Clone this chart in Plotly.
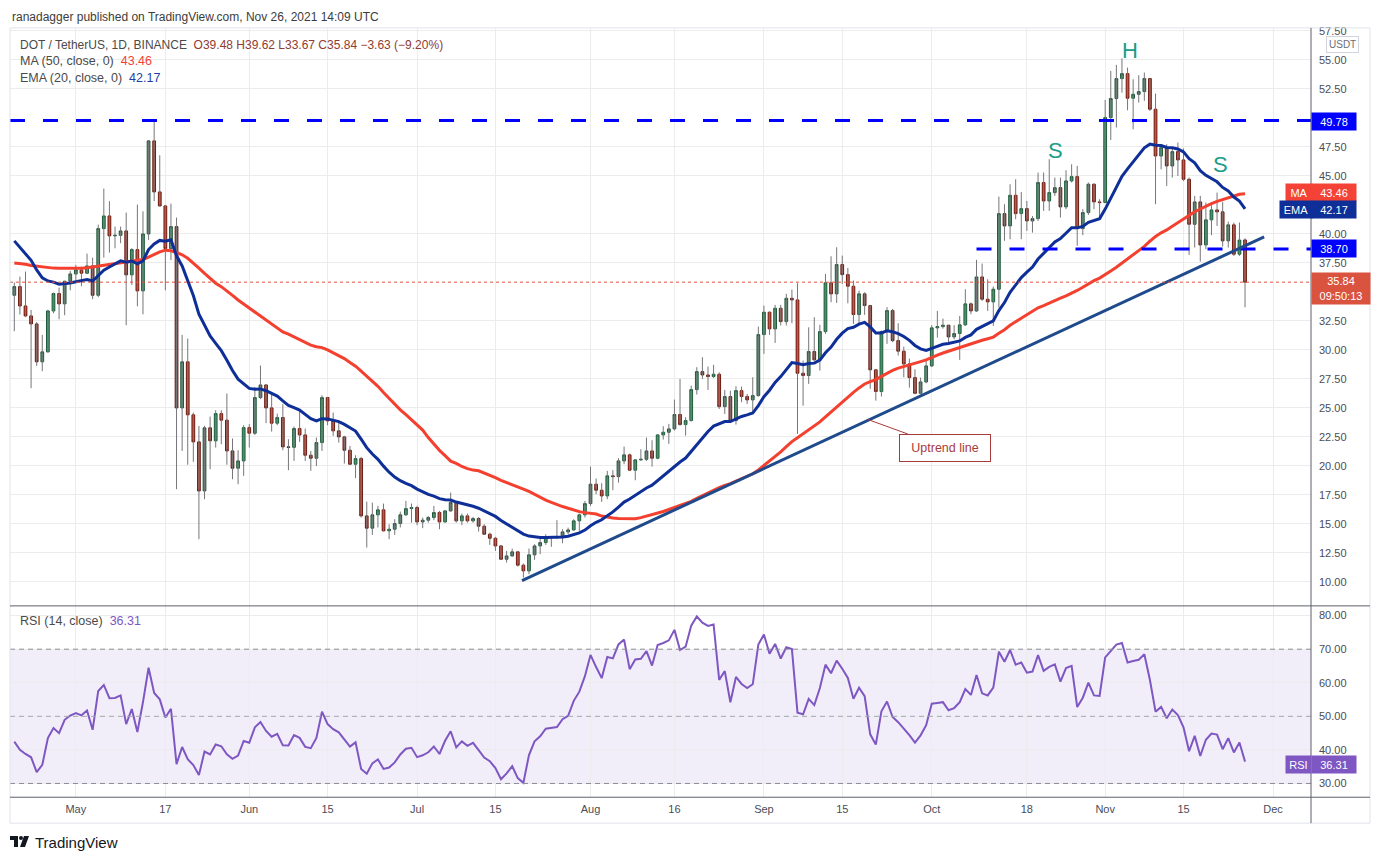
import plotly.graph_objects as go
import numpy as np
import pandas as pd

W, H = 1383, 860

# ---- data (DOT/USDT daily, Binance) ----
first_day = "2021-04-20"
opens = [34.71, 35.46, 33.79, 32.93, 32.24, 28.97, 29.83, 33.36, 34.86, 33.97,
         35.92, 36.55, 36.90, 36.61, 37.24, 34.71, 40.46, 41.55, 39.83, 39.88,
         40.26, 36.47, 38.65, 35.09, 40.00, 48.02, 43.62, 42.41, 38.74, 40.63,
         25.00, 28.97, 24.40, 22.07, 17.84, 23.28, 22.16, 24.51, 23.94, 21.29,
         19.80, 20.43, 23.30, 22.82, 25.89, 26.98, 25.00, 23.68, 24.17, 21.64,
         21.60, 23.22, 22.67, 20.92, 20.66, 22.01, 25.89, 23.88, 23.02, 22.50,
         21.35, 20.14, 20.63, 15.69, 14.63, 15.78, 16.21, 14.40, 14.54, 15.03,
         15.78, 16.32, 16.41, 15.17, 15.32, 15.55, 15.98, 15.17, 16.12, 16.84,
         15.26, 15.69, 15.26, 15.46, 14.80, 14.11, 13.76, 13.10, 11.95, 12.24,
         12.59, 11.44, 10.95, 12.33, 13.10, 13.39, 13.82, 13.85, 13.91, 14.31,
         14.48, 15.26, 15.78, 16.75, 18.42, 17.90, 17.41, 19.14, 19.08, 20.43,
         20.95, 19.63, 20.52, 20.57, 21.29, 20.66, 22.67, 22.90, 23.19, 24.43,
         23.56, 23.91, 26.58, 28.13, 27.84, 27.70, 27.90, 25.11, 25.98, 23.91,
         26.49, 25.98, 25.69, 26.06, 31.32, 33.25, 31.81, 33.59, 32.44, 34.45,
         34.31, 27.99, 27.79, 29.86, 29.14, 31.58, 35.78, 34.83, 37.36, 36.49,
         35.49, 33.05, 34.83, 33.82, 28.28, 26.41, 31.58, 33.39, 30.80, 29.89,
         28.79, 27.61, 26.26, 27.24, 28.62, 31.90, 32.01, 32.13, 31.12, 31.41,
         32.16, 33.97, 33.36, 36.29, 34.37, 34.14, 35.23, 41.75, 40.69, 43.33,
         41.75, 42.18, 41.12, 41.32, 44.43, 42.84, 43.56, 43.99, 42.33, 44.57,
         44.94, 40.46, 41.84, 44.28, 42.76, 42.70, 50.03, 51.67, 53.39, 53.82,
         51.70, 52.04, 52.27, 53.39, 50.75, 46.72, 47.44, 45.86, 47.10, 46.38,
         44.71, 40.83, 42.76, 39.05, 41.21, 42.07, 41.90, 39.40, 40.78, 38.25,
         39.48]
highs = [35.80, 36.32, 36.75, 33.45, 32.40, 31.29, 33.45, 34.94, 35.37, 35.95,
         36.81, 37.33, 37.18, 38.30, 37.96, 40.80, 43.91, 42.82, 40.63, 40.63,
         41.84, 38.76, 42.53, 41.95, 48.10, 49.74, 46.78, 42.50, 42.61, 41.41,
         31.29, 30.98, 24.60, 23.45, 23.45, 24.25, 24.80, 24.80, 26.24, 22.36,
         21.35, 23.51, 23.60, 26.81, 28.65, 26.98, 26.32, 24.51, 25.32, 22.30,
         23.39, 24.68, 23.22, 21.29, 22.44, 26.09, 25.95, 24.60, 23.88, 22.59,
         21.72, 20.92, 20.78, 16.92, 16.83, 16.55, 16.75, 14.97, 15.40, 16.06,
         16.98, 16.75, 16.55, 15.55, 15.69, 16.55, 16.12, 16.18, 17.70, 16.98,
         15.89, 15.89, 15.60, 15.60, 14.97, 14.25, 13.88, 13.19, 12.67, 12.87,
         12.67, 11.58, 12.87, 13.25, 13.82, 14.11, 13.88, 15.32, 14.54, 14.68,
         15.40, 15.89, 16.98, 19.94, 18.91, 18.51, 19.57, 19.63, 20.66, 21.67,
         21.06, 20.57, 21.44, 22.44, 22.21, 22.73, 23.42, 23.62, 25.72, 27.50,
         24.20, 26.93, 28.51, 29.37, 28.56, 28.71, 28.07, 26.55, 26.49, 26.87,
         26.84, 26.21, 27.64, 32.01, 33.82, 33.30, 33.88, 33.88, 34.83, 35.20,
         35.75, 29.08, 31.95, 32.82, 32.16, 36.55, 38.07, 38.85, 38.13, 37.07,
         35.98, 35.11, 34.97, 33.88, 28.36, 31.67, 33.68, 33.53, 32.30, 30.29,
         29.25, 28.33, 27.61, 29.05, 32.13, 33.36, 32.70, 32.13, 32.13, 32.93,
         35.23, 34.08, 37.76, 37.44, 36.09, 35.46, 43.22, 42.56, 44.28, 44.71,
         43.62, 42.84, 41.55, 45.29, 45.29, 46.44, 44.86, 44.86, 45.49, 46.00,
         45.86, 42.13, 44.43, 44.37, 42.99, 51.55, 54.05, 54.57, 55.14, 54.34,
         53.33, 53.68, 53.91, 53.40, 52.10, 47.73, 47.73, 47.36, 47.87, 47.36,
         44.86, 43.28, 43.28, 42.70, 42.47, 43.56, 42.76, 41.06, 40.98, 40.98,
         39.62]
lows = [31.61, 33.05, 32.82, 26.70, 28.62, 28.16, 29.77, 33.16, 32.64, 32.99,
        35.14, 36.03, 35.49, 36.60, 34.37, 34.54, 37.96, 38.39, 38.76, 39.20,
        32.13, 35.60, 33.76, 33.07, 39.48, 42.82, 42.36, 35.14, 37.73, 17.99,
        21.29, 20.10, 20.35, 13.68, 17.13, 19.71, 21.58, 21.87, 20.10, 18.85,
        18.42, 19.14, 21.58, 22.67, 25.75, 23.68, 22.96, 23.51, 21.35, 19.63,
        20.43, 22.07, 20.43, 19.57, 19.99, 21.29, 23.51, 22.59, 22.01, 20.20,
        20.10, 18.94, 15.55, 12.96, 14.05, 14.69, 14.34, 13.68, 14.05, 14.69,
        15.69, 15.11, 14.89, 14.63, 15.11, 15.32, 14.54, 15.11, 16.06, 15.11,
        14.89, 15.11, 15.11, 14.34, 14.05, 13.19, 12.67, 11.90, 11.67, 12.16,
        11.32, 10.37, 10.66, 11.90, 12.39, 13.19, 13.02, 13.68, 13.33, 14.11,
        14.40, 14.40, 15.55, 16.55, 17.56, 16.90, 17.13, 17.90, 18.56, 20.14,
        19.57, 18.76, 20.43, 20.43, 19.94, 20.57, 22.27, 21.90, 23.05, 23.48,
        22.61, 23.82, 26.15, 27.50, 26.55, 27.58, 24.91, 24.48, 23.76, 23.56,
        25.49, 25.34, 24.63, 25.98, 29.66, 31.29, 30.60, 32.10, 32.10, 32.30,
        22.76, 25.20, 27.07, 29.08, 28.22, 31.38, 34.11, 34.05, 35.69, 34.02,
        32.24, 32.24, 33.02, 26.64, 25.63, 25.98, 30.52, 30.66, 29.51, 27.64,
        26.75, 26.18, 26.18, 27.13, 28.53, 31.06, 31.84, 30.49, 30.92, 29.14,
        32.07, 33.07, 33.28, 34.22, 33.36, 32.07, 33.65, 39.40, 39.54, 41.26,
        39.54, 40.26, 40.11, 41.12, 41.98, 41.98, 43.28, 41.41, 42.13, 44.43,
        38.97, 39.89, 41.64, 42.13, 41.41, 42.70, 48.10, 49.17, 52.18, 50.66,
        49.02, 51.32, 51.47, 50.60, 42.56, 45.57, 44.14, 44.86, 45.00, 44.57,
        38.19, 38.82, 37.61, 38.68, 39.89, 40.69, 38.91, 38.82, 38.10, 38.10,
        33.67]
closes = [35.46, 33.79, 32.93, 32.24, 28.97, 29.83, 33.36, 34.86, 33.97, 35.92,
          36.55, 36.90, 36.61, 37.24, 34.71, 40.46, 41.55, 39.83, 39.88, 40.26,
          36.47, 38.65, 35.09, 40.00, 48.02, 43.62, 42.41, 38.74, 40.63, 25.00,
          28.97, 24.40, 22.07, 17.84, 23.28, 22.16, 24.51, 23.94, 21.29, 19.80,
          20.43, 23.30, 22.82, 25.89, 26.98, 25.00, 23.68, 24.17, 21.64, 21.60,
          23.22, 22.67, 20.92, 20.66, 22.01, 25.89, 23.88, 23.02, 22.50, 21.35,
          20.14, 20.63, 15.69, 14.63, 15.78, 16.21, 14.40, 14.54, 15.03, 15.78,
          16.32, 16.41, 15.17, 15.32, 15.55, 15.98, 15.17, 16.12, 16.84, 15.26,
          15.69, 15.26, 15.46, 14.80, 14.11, 13.76, 13.10, 11.95, 12.24, 12.59,
          11.44, 10.95, 12.33, 13.10, 13.39, 13.82, 13.85, 13.91, 14.31, 14.48,
          15.26, 15.78, 16.75, 18.42, 17.90, 17.41, 19.14, 19.08, 20.43, 20.95,
          19.63, 20.52, 20.57, 21.29, 20.66, 22.67, 22.90, 23.19, 24.43, 23.56,
          23.91, 26.58, 28.13, 27.84, 27.70, 27.90, 25.11, 25.98, 23.91, 26.49,
          25.98, 25.69, 26.06, 31.32, 33.25, 31.81, 33.59, 32.44, 34.45, 34.31,
          27.99, 27.79, 29.86, 29.14, 31.58, 35.78, 34.83, 37.36, 36.49, 35.49,
          33.05, 34.83, 33.82, 28.28, 26.41, 31.58, 33.39, 30.80, 29.89, 28.79,
          27.61, 26.26, 27.24, 28.62, 31.90, 32.01, 32.13, 31.12, 31.41, 32.16,
          33.97, 33.36, 36.29, 34.37, 34.14, 35.23, 41.75, 40.69, 43.33, 41.75,
          42.18, 41.12, 41.32, 44.43, 42.84, 43.56, 43.99, 42.33, 44.57, 44.94,
          40.46, 41.84, 44.28, 42.76, 42.70, 50.03, 51.67, 53.39, 53.82, 51.70,
          52.04, 52.27, 53.39, 50.75, 46.72, 47.44, 45.86, 47.10, 46.38, 44.71,
          40.83, 42.76, 39.05, 41.21, 42.07, 41.90, 39.40, 40.78, 38.25, 39.47,
          35.84]

# indicator values before enough history is on screen
ema_start = 39.4
ma50_head = [37.50, 37.45, 37.38, 37.27, 37.20, 37.14, 37.09, 37.05, 37.03, 37.02,
             37.02, 37.03, 37.04, 37.08, 37.15, 37.24, 37.30, 37.37, 37.43, 37.48,
             37.53, 37.60, 37.67, 37.80, 38.00, 38.25, 38.45, 38.60, 38.55, 38.40,
             38.20, 37.90, 37.50, 37.05, 36.60, 36.15, 35.75, 35.45, 35.10, 34.70,
             34.30, 33.95, 33.60, 33.30, 32.95, 32.55, 32.20, 31.85, 31.55]
rsi_gain0, rsi_loss0 = 0.9, 1.22

resistance = 49.78
neckline = 38.70
neckline_from = "2021-10-09"
trend_from = ("2021-07-19 18:00", 10.11)
trend_to = ("2021-11-29 10:00", 39.74)

last_price = "35.84"
ma_label, ema_label, rsi_label = "43.46", "42.17", "36.31"

tick_days = ["2021-05-01", "2021-05-17", "2021-06-01", "2021-06-15", "2021-07-01",
             "2021-07-15", "2021-08-01", "2021-08-16", "2021-09-01", "2021-09-15",
             "2021-10-01", "2021-10-18", "2021-11-01", "2021-11-15", "2021-12-01"]
tick_text = ["May", "17", "Jun", "15", "Jul", "15", "Aug", "16", "Sep", "15",
             "Oct", "18", "Nov", "15", "Dec"]
price_ticks = [10, 12.5, 15, 17.5, 20, 22.5, 25, 27.5, 30, 32.5, 37.5, 40,
               45, 47.5, 52.5, 55, 57.5]
rsi_ticks = [30, 40, 50, 60, 70, 80]

# ---- indicators ----
dates = pd.date_range(first_day, periods=len(closes), freq="D")
c = np.array(closes)
o = np.array(opens)

ema = [ema_start]
for v in c[1:]:
    ema.append(ema[-1] + 2 / 21 * (v - ema[-1]))

ma50 = ma50_head + list(np.convolve(c, np.ones(50) / 50, mode="valid"))

g, l = rsi_gain0, rsi_loss0
rsi = [100 * g / (g + l)]
for d in np.diff(c):
    g = (g * 13 + max(d, 0)) / 14
    l = (l * 13 + max(-d, 0)) / 14
    rsi.append(100 * g / (g + l))

# ---- figure ----
def px(x):
    return x / W


def py(y):
    return 1 - y / H


xr = ["2021-04-19 05:30", "2021-12-07 19:00"]
FONT = "Liberation Sans"

fig = go.Figure()

wx, wy = [], []
for d, lo, hi in zip(dates, lows, highs):
    wx += [d, d, None]
    wy += [lo, hi, None]
fig.add_trace(go.Scatter(x=wx, y=wy, mode="lines", line=dict(color="#76767a", width=1),
                         hoverinfo="skip", showlegend=False))

fig.add_trace(go.Candlestick(
    x=dates, open=opens, close=closes,
    high=np.maximum(o, c), low=np.minimum(o, c),
    increasing=dict(fillcolor="#3f9a6b", line=dict(color="#1f5a3a", width=1)),
    decreasing=dict(fillcolor="#c8412f", line=dict(color="#6b1d12", width=1)),
    whiskerwidth=0, showlegend=False))

fig.add_trace(go.Scatter(x=dates, y=ma50, mode="lines",
                         line=dict(color="#f3402f", width=3), showlegend=False))
fig.add_trace(go.Scatter(x=dates, y=ema, mode="lines",
                         line=dict(color="#0f2f98", width=3), showlegend=False))

fig.add_trace(go.Scatter(x=dates, y=rsi, mode="lines", xaxis="x2", yaxis="y2",
                         line=dict(color="#7e57c2", width=2), showlegend=False))

shapes = []
# horizontal levels
shapes.append(dict(type="line", xref="x", yref="y", x0=xr[0], x1=xr[1],
                   y0=resistance, y1=resistance,
                   line=dict(color="#0000ff", width=3, dash="15px,18px")))
shapes.append(dict(type="line", xref="x", yref="y", x0=neckline_from, x1=xr[1],
                   y0=neckline, y1=neckline,
                   line=dict(color="#0000ff", width=3, dash="15px,18px")))
shapes.append(dict(type="line", xref="x", yref="y", x0=trend_from[0], x1=trend_to[0],
                   y0=trend_from[1], y1=trend_to[1],
                   line=dict(color="#1f4b8c", width=3)))
shapes.append(dict(type="line", xref="x", yref="y", x0=xr[0], x1=xr[1],
                   y0=float(last_price), y1=float(last_price),
                   line=dict(color="#e0533f", width=1, dash="dot")))
# rsi band
shapes.append(dict(type="rect", xref="x2", yref="y2", x0=xr[0], x1=xr[1], y0=30, y1=70,
                   fillcolor="rgba(126,87,194,0.1)", line=dict(width=0), layer="below"))
for lvl, col in [(70, "#8a8d96"), (30, "#8a8d96"), (50, "#a3a6ae")]:
    shapes.append(dict(type="line", xref="x2", yref="y2", x0=xr[0], x1=xr[1],
                       y0=lvl, y1=lvl, line=dict(color=col, width=1, dash="5px,4px")))
# frame and separators
shapes.append(dict(type="rect", xref="paper", yref="paper", x0=px(10), x1=px(1370),
                   y0=py(823), y1=py(25), line=dict(color="#e0e3eb", width=1)))
shapes.append(dict(type="line", xref="paper", yref="paper", x0=px(10), x1=px(1370),
                   y0=py(605), y1=py(605), line=dict(color="#5d606b", width=1)))
shapes.append(dict(type="line", xref="paper", yref="paper", x0=px(10), x1=px(1370),
                   y0=py(797), y1=py(797), line=dict(color="#5d606b", width=1)))
shapes.append(dict(type="line", xref="paper", yref="paper", x0=px(1311), x1=px(1311),
                   y0=py(823), y1=py(25), line=dict(color="#5d606b", width=1)))
# TradingView logo
shapes.append(dict(type="path", xref="paper", yref="paper",
                   path=f"M {px(10)},{py(836)} L {px(18)},{py(836)} L {px(18)},{py(847)} "
                        f"L {px(14)},{py(847)} L {px(14)},{py(840)} L {px(10)},{py(840)} Z",
                   fillcolor="#131722", line=dict(width=0)))
shapes.append(dict(type="circle", xref="paper", yref="paper", x0=px(19), x1=px(23),
                   y0=py(840), y1=py(836), fillcolor="#131722", line=dict(width=0)))
shapes.append(dict(type="path", xref="paper", yref="paper",
                   path=f"M {px(24)},{py(836)} L {px(29)},{py(836)} L {px(25)},{py(847)} "
                        f"L {px(20)},{py(847)} Z",
                   fillcolor="#131722", line=dict(width=0)))

ann = []


def text(x, y, s, size=13, color="#4a4a4a", xanchor="left", **kw):
    ann.append(dict(x=px(x), y=py(y), xref="paper", yref="paper", text=s, showarrow=False,
                    xanchor=xanchor, yanchor="middle",
                    font=dict(family=FONT, size=size, color=color), **kw))


def tag(x, y, s, bg, w, h=15, color="white", size=11):
    ann.append(dict(x=px(x), y=py(y), xref="paper", yref="paper", text=s, showarrow=False,
                    xanchor="left", yanchor="middle", bgcolor=bg, width=w, height=h,
                    borderpad=1, align="center",
                    font=dict(family=FONT, size=size, color=color)))


text(10, 14, "ranadagger published on TradingView.com, Nov 26, 2021 14:09 UTC",
     size=12, color="#3c3c3c")
red = "#8e3b33"
text(18, 42, "DOT / TetherUS, 1D, BINANCE  "
     f"<span style='color:{red}'>O39.48 H39.62 L33.67 C35.84 −3.63 (−9.20%)</span>",
     size=12)
text(18, 58, f"MA (50, close, 0)  <span style='color:#f44336'>{ma_label}</span>", size=12.5)
text(18, 75, f"EMA (20, close, 0)  <span style='color:#1e3da6'>{ema_label}</span>", size=12.5)
text(18, 620, f"RSI (14, close)  <span style='color:#7e57c2'>{rsi_label}</span>", size=12.5)

text(1130, 48, "H", size=22, color="#1c9c87", xanchor="center")
text(1055, 148, "S", size=22, color="#1c9c87", xanchor="center")
text(1220, 162, "S", size=22, color="#1c9c87", xanchor="center")

ann.append(dict(x=px(868), y=py(418), xref="paper", yref="paper", text="Uptrend line",
                showarrow=True, arrowhead=0, arrowwidth=1, arrowcolor="#a83a3a",
                ax=77, ay=28, bgcolor="white", bordercolor="#a83a3a", borderwidth=1,
                width=84, height=20, borderpad=3,
                font=dict(family=FONT, size=12.5, color="#a83a3a")))

# right axis tags
ann.append(dict(x=px(1342), y=py(42), xref="paper", yref="paper", text="USDT",
                showarrow=False, xanchor="center", yanchor="middle",
                bgcolor="white", bordercolor="#d1d4dc", borderwidth=1,
                borderpad=2, font=dict(family=FONT, size=10, color="#6a6d78")))
tag(1311, 118.7, f"{resistance:.2f}", "#0000ff", 42)
tag(1285, 190.3, "MA", "#f44336", 24)
tag(1311, 190.3, ma_label, "#f44336", 42)
tag(1279, 207, "EMA", "#0f2f98", 30)
tag(1311, 207, ema_label, "#0f2f98", 42)
tag(1311, 246.3, f"{neckline:.2f}", "#0000ff", 42)
tag(1311, 286, f"{last_price}<br>09:50:13", "#d9533f", 56, h=29)
tag(1285, 764, "RSI", "#7e57c2", 23)
tag(1311, 764, rsi_label, "#7e57c2", 42)

text(33, 842, "TradingView", size=15, color="#131722")

axis_font = dict(family=FONT, size=11, color="#4a4d57")
fig.update_layout(
    width=W, height=H, margin=dict(l=0, r=0, t=0, b=0),
    paper_bgcolor="white", plot_bgcolor="white", showlegend=False,
    shapes=shapes, annotations=ann, hovermode=False,
    xaxis=dict(domain=[px(10), px(1311)], range=xr, type="date", anchor="y",
               tickvals=tick_days, showticklabels=False, showgrid=True,
               gridcolor="#ececec", zeroline=False, rangeslider=dict(visible=False),
               fixedrange=True),
    xaxis2=dict(domain=[px(10), px(1311)], range=xr, type="date", anchor="y2",
                tickvals=tick_days, ticktext=tick_text, showgrid=True, gridcolor="#ececec",
                ticks="", tickfont=axis_font, zeroline=False, fixedrange=True,
                ticklabelstandoff=4),
    yaxis=dict(domain=[py(605), py(25)], range=[7.93, 57.76], side="right", anchor="x",
               tickvals=price_ticks, ticktext=[f"{v:.2f}" for v in price_ticks],
               showgrid=True, gridcolor="#ececec", zeroline=False, ticks="",
               tickfont=axis_font, ticklabelstandoff=7, fixedrange=True),
    yaxis2=dict(domain=[py(797), py(605)], range=[25.9, 82.9], side="right", anchor="x2",
                tickvals=rsi_ticks, ticktext=[f"{v:.2f}" for v in rsi_ticks],
                showgrid=True, gridcolor="#ececec", zeroline=False, ticks="",
                tickfont=axis_font, ticklabelstandoff=7, fixedrange=True),
)

fig.write_html("out.html", config={"displayModeBar": False},
               post_script="document.body.style.margin='0';")
